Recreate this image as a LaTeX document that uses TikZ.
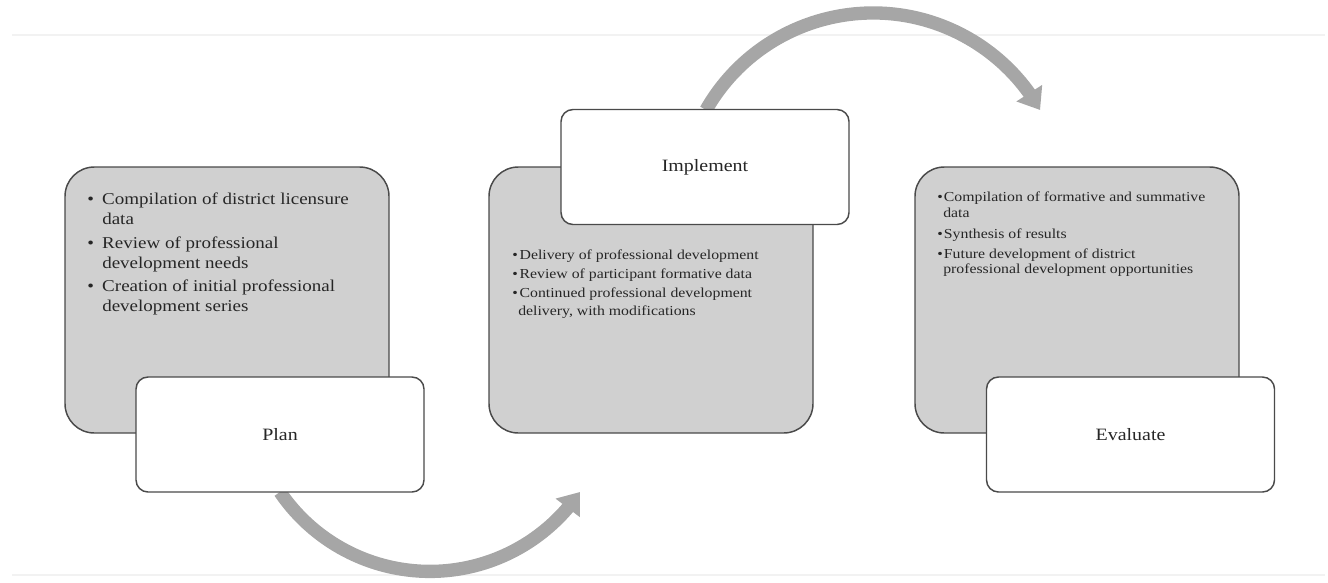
\documentclass[tikz,border=0pt]{standalone}
\usepackage{fontspec}
\setmainfont[FakeStretch=1.15]{Liberation Serif}
\usetikzlibrary{arrows.meta,bending}
\definecolor{boxgray}{HTML}{D0D0D0}
\definecolor{edgegray}{HTML}{4A4A4A}
\definecolor{arrowgray}{HTML}{A6A6A6}
\definecolor{txt}{HTML}{262626}
\newcommand{\bul}[1]{\makebox[#1][l]{•}}
\newcommand{\ind}[1]{\hspace*{#1}}
\tikzset{
  graybox/.style={draw=edgegray, line width=1.1pt, fill=boxgray, rounded corners=22pt,
    minimum width=243pt, minimum height=199.5pt, inner sep=0pt, outer sep=0pt},
  labelbox/.style={draw=edgegray, line width=1.1pt, fill=white, rounded corners=9pt,
    minimum width=216pt, minimum height=86.25pt, inner sep=0pt, outer sep=0pt,
    text=txt, font=\fontsize{13pt}{15pt}\selectfont},
  bodytext/.style={anchor=north west, inner sep=0pt, align=left, text=txt},
  cyclearrow/.style={draw=arrowgray, line width=10pt, -{Triangle[width=22pt,length=15pt]}},
  faintline/.style={draw=black!5, line width=1.5pt}
}
\begin{document}
\begin{tikzpicture}[x=0.75pt,y=-0.75pt]
\useasboundingbox (0,0) rectangle (1328,582);
\coordinate (fl1) at (12,35); \coordinate (fr1) at (1325,35);
\coordinate (fl2) at (12,575); \coordinate (fr2) at (1325,575);
\draw[faintline] (fl1) -- (fr1);
\draw[faintline] (fl2) -- (fr2);

% gray content boxes
\node[graybox] (g1) at (227,300) {};
\node[graybox] (g2) at (651,300) {};
\node[graybox] (g3) at (1077,300) {};

% arrows (behind label boxes)
\coordinate (a1) at (280,492);
\coordinate (a2) at (706,110);
\draw[cyclearrow] (a1) arc[start angle=145.8, end angle=34.2, radius=181.3];
\draw[cyclearrow] (a2) arc[start angle=-150.3, end angle=-29.7, radius=192.3];

% label boxes
\node[labelbox] (l1) at (280,434.5) {Plan};
\node[labelbox] (l2) at (705,167) {Implement};
\node[labelbox] (l3) at (1130.5,434.5) {Evaluate};

% body texts
\node[bodytext, font=\fontsize{12.4pt}{14.8pt}\selectfont] (t1) at (87,193) {%
\bul{11.25pt}Compilation of district licensure\\ \ind{11.25pt}data\\[3pt]
\bul{11.25pt}Review of professional\\ \ind{11.25pt}development needs\\[3pt]
\bul{11.25pt}Creation of initial professional\\ \ind{11.25pt}development series};

\node[bodytext, font=\fontsize{10.3pt}{14pt}\selectfont] (t2) at (512,250) {%
\bul{5.5pt}Delivery of professional development\\
\bul{5.5pt}Review of participant formative data\\
\bul{5.5pt}Continued professional development\\ \ind{4.5pt}delivery, with modifications};

\node[bodytext, font=\fontsize{10.3pt}{11.6pt}\selectfont] (t3) at (937,192) {%
\bul{5pt}Compilation of formative and summative\\ \ind{4.5pt}data\\[4pt]
\bul{5pt}Synthesis of results\\[3.5pt]
\bul{5pt}Future development of district\\ \ind{4.5pt}professional development opportunities};
\end{tikzpicture}
\end{document}
